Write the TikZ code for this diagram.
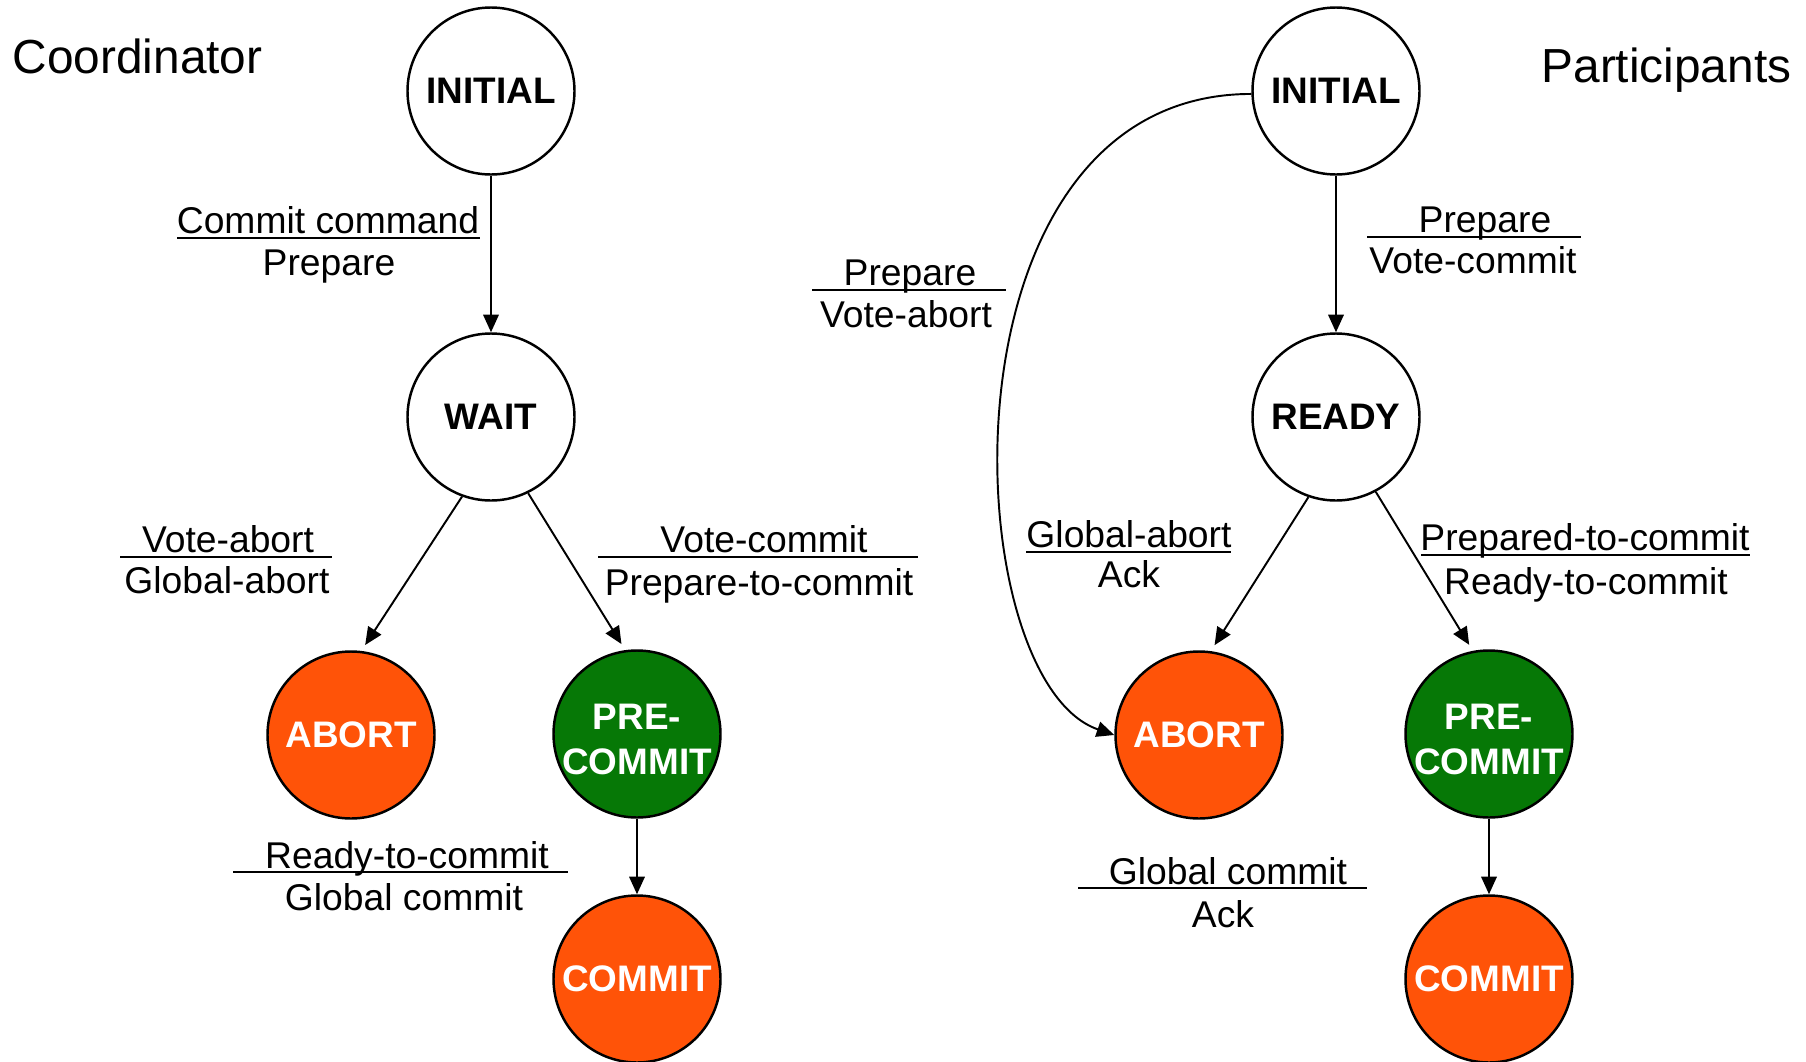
\documentclass[tikz,border=0pt]{standalone}
\usepackage{fontspec}
\setmainfont{Liberation Sans}
\usetikzlibrary{arrows.meta, positioning}
\definecolor{abortred}{HTML}{FF5308}
\definecolor{commitgreen}{HTML}{067806}

\begin{document}
\begin{tikzpicture}[
  state/.style={circle, draw=black, line width=0.7pt, minimum size=1.67cm,
        inner sep=0pt, align=center,
        font=\fontsize{10.5}{12.8}\selectfont\bfseries},
  idlestate/.style={state, fill=white},
  abortstate/.style={state, fill=abortred, text=white},
  prestate/.style={state, fill=commitgreen, text=white, inner sep=-2pt},
  msg/.style={font=\fontsize{10.6}{12.7}\selectfont, inner sep=0pt, anchor=base},
  rule/.style={line width=0.6pt},
  arr/.style={-{Triangle[length=5pt,width=4.4pt]}, line width=0.55pt},
  title/.style={font=\fontsize{13.6}{16}\selectfont, inner sep=0pt}
]
  \useasboundingbox (0,0) rectangle (18.06,-10.62);

  % Coordinator
  \node[title, anchor=base west] (coordtitle) at (0.12,-0.73) {Coordinator};
  \node[idlestate] (cinit) at (4.91,-0.91) {INITIAL};
  \node[idlestate] (wait) at (4.91,-4.17) {WAIT};
  \node[abortstate] (cabort) at (3.51,-7.35) {ABORT};
  \node[prestate] (cpre) at (6.37,-7.34) {\rule{0pt}{10.4pt}PRE-\\COMMIT};
  \node[abortstate] (ccommit) at (6.37,-9.79) {COMMIT};

  \draw[arr] (cinit) -- (wait);
  \draw[arr, shorten >=2pt] (wait.-110) -- (cabort.83);
  \draw[arr, shorten >=2pt] (wait.-64) -- (cpre.98);
  \draw[arr] (cpre) -- (ccommit);

  \node[msg] (c1top) at (3.28,-2.33) {Commit command};
  \draw[rule] (1.77,-2.38) -- (4.80,-2.38);
  \node[msg] (c1bot) at (3.29,-2.75) {Prepare};

  \node[msg] (c2top) at (2.28,-5.52) {Vote-abort};
  \draw[rule] (1.20,-5.57) -- (3.32,-5.57);
  \node[msg] (c2bot) at (2.27,-5.93) {Global-abort};

  \node[msg] (c3top) at (7.64,-5.52) {Vote-commit};
  \draw[rule] (5.98,-5.57) -- (9.18,-5.57);
  \node[msg] (c3bot) at (7.59,-5.95) {Prepare-to-commit};

  \node[msg] (c4top) at (4.07,-8.68) {Ready-to-commit};
  \draw[rule] (2.33,-8.72) -- (5.68,-8.72);
  \node[msg] (c4bot) at (4.04,-9.10) {Global commit};

  % Participants
  \node[title, anchor=base east] (parttitle) at (17.92,-0.82) {Participants};
  \node[idlestate] (pinit) at (13.36,-0.91) {INITIAL};
  \node[idlestate] (ready) at (13.36,-4.17) {READY};
  \node[abortstate] (pabort) at (11.99,-7.35) {ABORT};
  \node[prestate] (ppre) at (14.89,-7.34) {\rule{0pt}{10.4pt}PRE-\\COMMIT};
  \node[abortstate] (pcommit) at (14.89,-9.79) {COMMIT};

  \draw[arr] (pinit) -- (ready);
  \draw[arr, shorten >=2pt] (ready.-109) -- (pabort.82);
  \draw[arr, shorten >=2pt] (ready.-62) -- (ppre.101);
  \draw[arr] (ppre) -- (pcommit);
  \draw[arr] (pinit.182) .. controls +(-3.2,0) and +(-1.6,0.55) .. (pabort.west);

  \node[msg] (p1top) at (14.85,-2.32) {Prepare};
  \draw[rule] (13.67,-2.37) -- (15.81,-2.37);
  \node[msg] (p1bot) at (14.73,-2.73) {Vote-commit};

  \node[msg] (p2top) at (9.10,-2.85) {Prepare};
  \draw[rule] (8.12,-2.90) -- (10.06,-2.90);
  \node[msg] (p2bot) at (9.06,-3.27) {Vote-abort};

  \node[msg] (p3top) at (11.29,-5.47) {Global-abort};
  \draw[rule] (10.26,-5.52) -- (12.31,-5.52);
  \node[msg] (p3bot) at (11.29,-5.87) {Ack};

  \node[msg] (p4top) at (15.85,-5.50) {Prepared-to-commit};
  \draw[rule] (14.21,-5.55) -- (17.50,-5.55);
  \node[msg] (p4bot) at (15.86,-5.94) {Ready-to-commit};

  \node[msg] (p5top) at (12.28,-8.84) {Global commit};
  \draw[rule] (10.78,-8.88) -- (13.67,-8.88);
  \node[msg] (p5bot) at (12.23,-9.27) {Ack};
\end{tikzpicture}
\end{document}
